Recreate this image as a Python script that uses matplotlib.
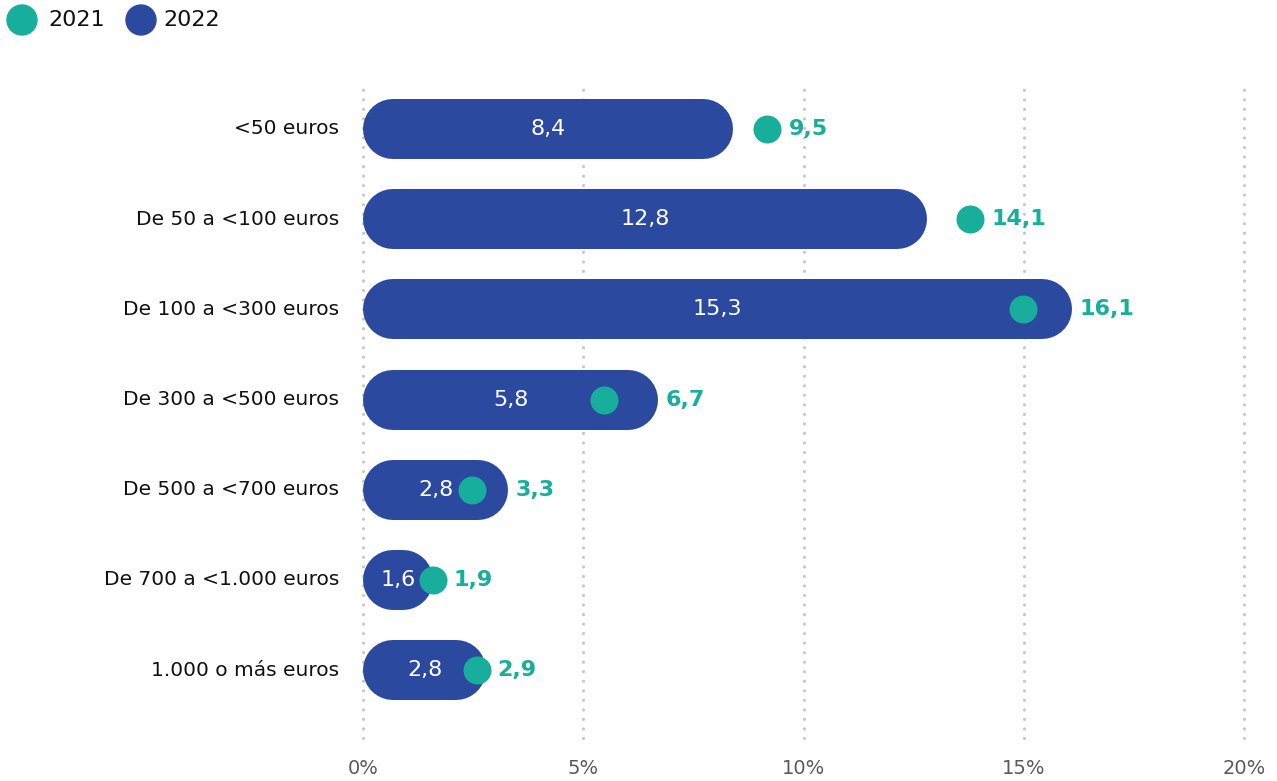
import matplotlib
matplotlib.use("Agg")
import matplotlib.pyplot as plt
from matplotlib.patches import Ellipse

plt.rcParams['font.family'] = ['DejaVu Sans']

categories = ["<50 euros", "De 50 a <100 euros", "De 100 a <300 euros",
              "De 300 a <500 euros", "De 500 a <700 euros",
              "De 700 a <1.000 euros", "1.000 o más euros"]
values_2022 = [8.4, 12.8, 15.3, 5.8, 2.8, 1.6, 2.8]
values_2021 = [9.5, 14.1, 16.1, 6.7, 3.3, 1.9, 2.9]
# bar ends and dot right edges as drawn in the original chart
bar_end = [8.4, 12.8, 16.1, 6.7, 3.3, 1.6, 2.8]
dot_edge = [9.5, 14.1, 15.3, 5.8, 2.8, 1.9, 2.9]
xticks = [0, 5, 10, 15, 20]
xtick_labels = ["0%", "5%", "10%", "15%", "20%"]

BLUE = "#2b4a9f"
GREEN = "#17ae9c"

W, H, DPI = 1277, 781, 100
PT = 72 / DPI  # points per pixel
fig = plt.figure(figsize=(W / DPI, H / DPI), dpi=DPI)
ax_l, ax_r = 363 / W, 1244 / W
ax_top, ax_bot = 85, 738
ax = fig.add_axes([ax_l, 1 - ax_bot / H, ax_r - ax_l, (ax_bot - ax_top) / H])
row_px = 90.17
y0, y1 = (ax_bot - 129) / row_px, (ax_top - 129) / row_px
ax.set_xlim(0, 20)
ax.set_ylim(y0, y1)
for s in ax.spines.values():
    s.set_visible(False)
ax.set_xticks([])
ax.set_yticks([])

for t in xticks:
    ax.plot([t, t], [y0, y1], color="#c8c8c8", lw=3.2 * PT,
            dashes=(0.01, 9.5 / 3.2), dash_capstyle="round", zorder=0,
            clip_on=False)

bar_h_px = 60
px_per_unit = (ax_r - ax_l) * W / 20.0
r = (bar_h_px / 2) / px_per_unit
dot_r = 14 / px_per_unit
lw_pt = bar_h_px * PT

for i, cat in enumerate(categories):
    be, de = bar_end[i], dot_edge[i]
    ax.plot([r, max(be - r, r)], [i, i], color=BLUE, lw=lw_pt,
            solid_capstyle="round", zorder=2)
    ax.text(be / 2, i, f"{values_2022[i]:.1f}".replace(".", ","), color="white",
            fontsize=16, ha="center", va="center", zorder=4)
    ax.scatter([de - dot_r], [i], s=(28 * PT) ** 2, color=GREEN, zorder=3, linewidths=0)
    ax.annotate(f"{values_2021[i]:.1f}".replace(".", ","), xy=(max(be, de), i),
                xytext=(7 * PT, 0), textcoords="offset points", color=GREEN,
                fontsize=16, fontweight="bold", ha="left", va="center", zorder=4)
    ax.annotate(cat, xy=(0, i), xytext=(-24 * PT, 0), textcoords="offset points",
                ha="right", va="center", fontsize=14.5, color="#111111")

for t, lab in zip(xticks, xtick_labels):
    ax.annotate(lab, xy=(t, 0), xycoords=("data", "axes fraction"),
                xytext=(0, -30 * PT), textcoords="offset points", ha="center",
                va="center", fontsize=14, color="#5a5a5a")

# legend
for cx, tx, lab, col in [(22, 48, "2021", GREEN), (141, 163, "2022", BLUE)]:
    fig.add_artist(Ellipse((cx / W, 1 - 20 / H), 30 / W, 30 / H,
                           transform=fig.transFigure, color=col))
    fig.text(tx / W, 1 - 20 / H, lab, fontsize=16, ha="left", va="center",
             color="#111111")

fig.savefig("out.png", dpi=DPI)
